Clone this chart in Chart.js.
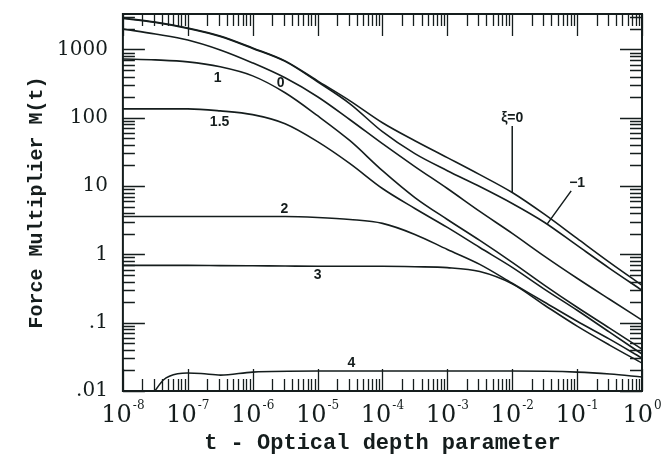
<!DOCTYPE html>
<html>
<head>
<meta charset="utf-8">
<script src="https://cdn.jsdelivr.net/npm/chart.js@4.4.0/dist/chart.umd.min.js"></script>
<style>
  html, body { margin: 0; padding: 0; background: #fff; }
  #wrap { width: 667px; height: 458px; }
</style>
</head>
<body>
<div id="wrap"><canvas id="forceChart" width="667" height="458"></canvas></div>
<script>
// t grid (half decades) shared by the main curves
var tValues = [1e-8, 3.16e-8, 1e-7, 3.16e-7, 1e-6, 3.16e-6, 1e-5, 3.16e-5, 1e-4, 3.16e-4, 1e-3, 3.16e-3, 1e-2, 3.16e-2, 1e-1, 3.16e-1, 1];

// force multiplier M(t)
var mXi0  = [2884, 2518, 2061, 1574, 1052, 679, 347, 177, 84.5, 46.1, 26.1, 14.7, 8.04, 3.84, 1.71, 0.764, 0.352];
var mXiM1 = [2838, 2477, 2028, 1549, 1035, 668, 336, 160, 62.5, 29.8, 16.8, 9.84, 5.56, 2.93, 1.35, 0.625, 0.298];
var m0    = [1991, 1683, 1377, 984, 635, 384, 203, 93.5, 41.7, 19.3, 9.20, 4.25, 2.03, 0.935, 0.447, 0.220, 0.109];
var m1    = [726, 703, 658, 556, 410, 232, 107, 46.1, 16.8, 6.79, 3.24, 1.60, 0.764, 0.352, 0.168, 0.0832, 0.0410];
var m15   = [135, 135, 135, 126, 111, 81.7, 44.7, 21.3, 9.20, 4.70, 2.48, 1.26, 0.646, 0.308, 0.152, 0.0726, 0.0347];
var m2    = [3.59, 3.59, 3.59, 3.59, 3.59, 3.59, 3.47, 3.24, 2.84, 1.96, 1.18, 0.714, 0.378, 0.199, 0.105, 0.0574, 0.0303];
var m3    = [0.69, 0.69, 0.69, 0.685, 0.68, 0.675, 0.67, 0.67, 0.67, 0.66, 0.64, 0.56, 0.37, 0.18, 0.089, 0.047, 0.0256];

// curve 4 has its own t points (it starts off the axis near 3e-8)
var t4 = [3.1e-8, 4.2e-8, 5.2e-8, 9.8e-8, 1.6e-7, 3.2e-7, 1e-6, 1e-5, 1e-4, 1e-3, 1e-2, 1e-1, 3.2e-1, 1];
var m4 = [0.0100, 0.0145, 0.0165, 0.0183, 0.0180, 0.0171, 0.0189, 0.0196, 0.0196, 0.0196, 0.0196, 0.0189, 0.0177, 0.0160];

// axis ticks
var xTicks = [1e-8, 1e-7, 1e-6, 1e-5, 1e-4, 1e-3, 1e-2, 1e-1, 1];
var xTickExps = ['-8', '-7', '-6', '-5', '-4', '-3', '-2', '-1', '0'];
var yTicks = [0.01, 0.1, 1, 10, 100, 1000];
var yTickLabels = ['.01', '.1', '1', '10', '100', '1000'];

// curve labels (placed in data coordinates)
var curveLabels = [
  { text: '0',   t: 2.69e-6, m: 324 },
  { text: '1',   t: 2.88e-7, m: 380 },
  { text: '1.5', t: 3.09e-7, m: 85 },
  { text: '2',   t: 3.09e-6, m: 4.57 },
  { text: '3',   t: 1e-5,    m: 0.49 },
  { text: '4',   t: 3.31e-5, m: 0.0257 },
  { text: '\u03BE=0', t: 1e-2, m: 100 },
  { text: '\u22121',  t: 0.1,  m: 11 }
];
var leaders = [
  { t1: 1e-2, m1: 76, t2: 1e-2, m2: 8.0 },
  { t1: 8.1e-2, m1: 8.5, t2: 3.47e-2, m2: 2.8 }
];

var ink = '#151d1d';

function pairs(ts, ms) {
  return ts.map(function (t, i) { return { x: t, y: ms[i] }; });
}

function logSteps(min, max) {
  var out = [];
  var d0 = Math.floor(Math.log10(min) + 1e-9), d1 = Math.ceil(Math.log10(max) - 1e-9);
  for (var d = d0; d <= d1; d++) {
    for (var k = 1; k <= 9; k++) {
      var v = k * Math.pow(10, d);
      if (v >= min * 0.999 && v <= max * 1.001) out.push({ v: v, major: k === 1 });
    }
  }
  return out;
}

var decorations = {
  id: 'decorations',
  afterDraw: function (chart) {
    var ctx = chart.ctx, a = chart.chartArea;
    var xs = chart.scales.x, ys = chart.scales.y;
    ctx.save();
    ctx.strokeStyle = ink;
    ctx.fillStyle = ink;

    // inward ticks on all four sides
    ctx.lineWidth = 1.3;
    ctx.beginPath();
    logSteps(xs.min, xs.max).forEach(function (tk) {
      var px = Math.round(xs.getPixelForValue(tk.v)) + 0.5;
      var len = tk.major ? 22 : 12;
      ctx.moveTo(px, a.bottom); ctx.lineTo(px, a.bottom - len);
      ctx.moveTo(px, a.top); ctx.lineTo(px, a.top + len);
    });
    logSteps(ys.min, ys.max).forEach(function (tk) {
      var py = Math.round(ys.getPixelForValue(tk.v)) + 0.5;
      var len = tk.major ? 22 : 12;
      ctx.moveTo(a.left, py); ctx.lineTo(a.left + len, py);
      ctx.moveTo(a.right, py); ctx.lineTo(a.right - len, py);
    });
    ctx.stroke();

    // frame
    ctx.lineWidth = 2;
    ctx.strokeRect(a.left, a.top, a.right - a.left, a.bottom - a.top);

    // x tick labels 10^n
    ctx.textBaseline = 'alphabetic';
    ctx.textAlign = 'left';
    xTicks.forEach(function (v, i) {
      var px = xs.getPixelForValue(v);
      ctx.font = '24px "DejaVu Serif"';
      var w1 = ctx.measureText('10').width;
      ctx.font = '12px "DejaVu Serif"';
      var w2 = ctx.measureText(xTickExps[i]).width;
      var x0 = px - (w1 + w2 + 1) / 2;
      ctx.font = '24px "DejaVu Serif"';
      ctx.fillText('10', x0, a.bottom + 31);
      ctx.font = '12px "DejaVu Serif"';
      ctx.fillText(xTickExps[i], x0 + w1 + 1, a.bottom + 18);
    });

    // leader lines
    ctx.lineWidth = 1.5;
    ctx.beginPath();
    leaders.forEach(function (l) {
      ctx.moveTo(xs.getPixelForValue(l.t1), ys.getPixelForValue(l.m1));
      ctx.lineTo(xs.getPixelForValue(l.t2), ys.getPixelForValue(l.m2));
    });
    ctx.stroke();

    // curve labels
    ctx.font = 'bold 14px "Liberation Sans"';
    ctx.textAlign = 'center';
    ctx.textBaseline = 'middle';
    curveLabels.forEach(function (c) {
      ctx.fillText(c.text, xs.getPixelForValue(c.t), ys.getPixelForValue(c.m));
    });
    ctx.restore();
  }
};

var lineStyle = {
  borderColor: ink,
  borderWidth: 1.6,
  pointRadius: 0,
  fill: false,
  cubicInterpolationMode: 'monotone'
};

function series(label, ts, ms) {
  return Object.assign({ label: label, data: pairs(ts, ms) }, lineStyle);
}

var ctx = document.getElementById('forceChart').getContext('2d');
var forceChart = new Chart(ctx, {
  type: 'line',
  data: {
    datasets: [
      series('\u03BE=0', tValues, mXi0),
      series('\u03BE=-1', tValues, mXiM1),
      series('0', tValues, m0),
      series('1', tValues, m1),
      series('1.5', tValues, m15),
      series('2', tValues, m2),
      series('3', tValues, m3),
      series('4', t4, m4)
    ]
  },
  options: {
    responsive: false,
    animation: false,
    devicePixelRatio: 1,
    layout: { padding: { left: 25, right: 25, top: 14, bottom: 0 } },
    plugins: { legend: { display: false }, tooltip: { enabled: false } },
    scales: {
      x: {
        type: 'logarithmic',
        min: 1e-8,
        max: 1,
        afterBuildTicks: function (scale) {
          scale.ticks = xTicks.map(function (v) { return { value: v }; });
        },
        ticks: { display: false },
        grid: { display: false, drawTicks: false },
        border: { display: false },
        title: {
          display: true,
          text: 't - Optical depth parameter',
          color: ink,
          font: { family: 'Liberation Mono', size: 22, weight: 'bold', lineHeight: 1.2 },
          padding: { top: 39.6, bottom: 1 }
        }
      },
      y: {
        type: 'logarithmic',
        min: 0.01,
        max: 3300,
        afterBuildTicks: function (scale) {
          scale.ticks = yTicks.map(function (v) { return { value: v }; });
        },
        ticks: {
          autoSkip: false,
          padding: 0,
          color: ink,
          font: { family: 'DejaVu Serif', size: 20, lineHeight: 1.2 },
          callback: function (v, i) { return yTickLabels[i]; }
        },
        grid: { display: false, drawTicks: true, tickLength: 15 },
        border: { display: false },
        title: {
          display: true,
          text: 'Force Multiplier M(t)',
          color: ink,
          font: { family: 'Liberation Mono', size: 20, weight: 'bold', lineHeight: 1.2 },
          padding: { top: 0, bottom: 8 }
        }
      }
    }
  },
  plugins: [decorations]
});
</script>
</body>
</html>
